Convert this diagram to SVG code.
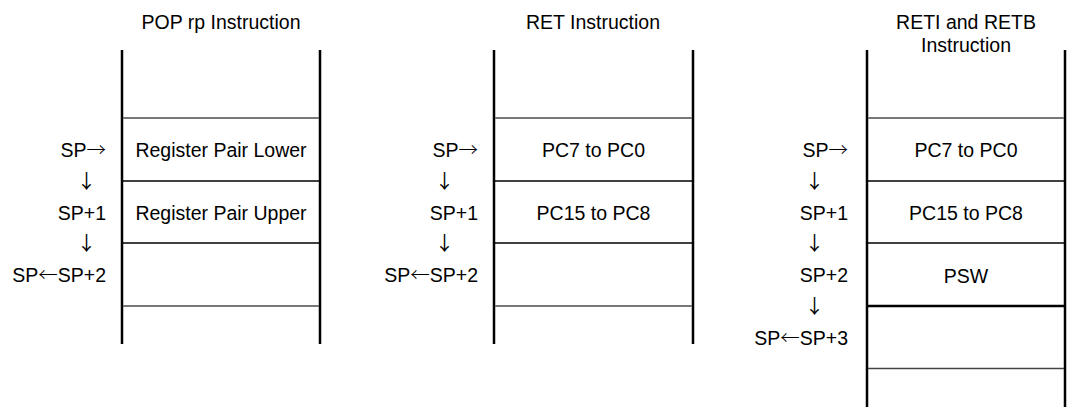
<svg xmlns="http://www.w3.org/2000/svg" width="1070" height="413" viewBox="0 0 1070 413">
<style>
text{font-family:"Liberation Sans",Arial,"DejaVu Sans",sans-serif;font-size:19.5px;fill:#000}
.a{font-family:"Noto Sans CJK JP","DejaVu Sans",sans-serif;font-weight:300}
.dn{font-family:"Noto Sans CJK JP","DejaVu Sans",sans-serif;font-weight:400;fill:#000}
.m{text-anchor:middle}
.r{text-anchor:end}
.v{stroke:#000;stroke-width:2.5;fill:none}
.g{stroke:#777;stroke-width:2;fill:none}
.k{stroke:#000;stroke-width:1.6;fill:none}
.kk{stroke:#000;stroke-width:2.5;fill:none}
.d{stroke:#444;stroke-width:1.5;fill:none}
</style>
<rect width="1070" height="413" fill="#fff"/>
<g id="titles">
<text class="m" x="221" y="29">POP rp Instruction</text>
<text class="m" x="593" y="29">RET Instruction</text>
<text class="m" x="966" y="29">RETI and RETB</text>
<text class="m" x="966" y="52">Instruction</text>
</g>
<g id="stack-pop">
<line class="v" x1="122" y1="50" x2="122" y2="344"/>
<line class="v" x1="320" y1="50" x2="320" y2="344"/>
<line class="g" x1="123" y1="118" x2="319" y2="118"/>
<line class="k" x1="123" y1="181" x2="319" y2="181"/>
<line class="k" x1="123" y1="243" x2="319" y2="243"/>
<line class="g" x1="123" y1="306" x2="319" y2="306"/>
<text class="m" x="221" y="157">Register Pair Lower</text>
<text class="m" x="221" y="220">Register Pair Upper</text>
<text class="r" x="106" y="157">SP<tspan class="a">→</tspan></text>
<text class="m dn" x="86.5" y="188">↓</text>
<text class="r" x="106" y="220">SP+1</text>
<text class="m dn" x="86.5" y="250">↓</text>
<text class="r" x="106" y="282">SP<tspan class="a">←</tspan>SP+2</text>
</g>
<g id="stack-ret">
<line class="v" x1="494" y1="50" x2="494" y2="344"/>
<line class="v" x1="693" y1="50" x2="693" y2="344"/>
<line class="g" x1="495" y1="118" x2="692" y2="118"/>
<line class="k" x1="495" y1="181" x2="692" y2="181"/>
<line class="k" x1="495" y1="243" x2="692" y2="243"/>
<line class="g" x1="495" y1="306" x2="692" y2="306"/>
<text class="m" x="593.5" y="157">PC7 to PC0</text>
<text class="m" x="593.5" y="220">PC15 to PC8</text>
<text class="r" x="478" y="157">SP<tspan class="a">→</tspan></text>
<text class="m dn" x="444.5" y="188">↓</text>
<text class="r" x="478" y="220">SP+1</text>
<text class="m dn" x="444.5" y="250">↓</text>
<text class="r" x="478" y="282">SP<tspan class="a">←</tspan>SP+2</text>
</g>
<g id="stack-reti">
<line class="v" x1="867" y1="50" x2="867" y2="407"/>
<line class="v" x1="1065" y1="50" x2="1065" y2="407"/>
<line class="g" x1="868" y1="118" x2="1064" y2="118"/>
<line class="k" x1="868" y1="181" x2="1064" y2="181"/>
<line class="k" x1="868" y1="243" x2="1064" y2="243"/>
<line class="kk" x1="868" y1="306" x2="1064" y2="306"/>
<line class="d" x1="868" y1="368.5" x2="1064" y2="368.5"/>
<text class="m" x="966" y="157">PC7 to PC0</text>
<text class="m" x="966" y="220">PC15 to PC8</text>
<text class="m" x="966" y="283">PSW</text>
<text class="r" x="848" y="157">SP<tspan class="a">→</tspan></text>
<text class="m dn" x="814.5" y="188">↓</text>
<text class="r" x="848" y="220">SP+1</text>
<text class="m dn" x="814.5" y="250">↓</text>
<text class="r" x="848" y="282">SP+2</text>
<text class="m dn" x="814.5" y="313">↓</text>
<text class="r" x="848" y="345">SP<tspan class="a">←</tspan>SP+3</text>
</g>
<g id="connectors"></g>
</svg>
